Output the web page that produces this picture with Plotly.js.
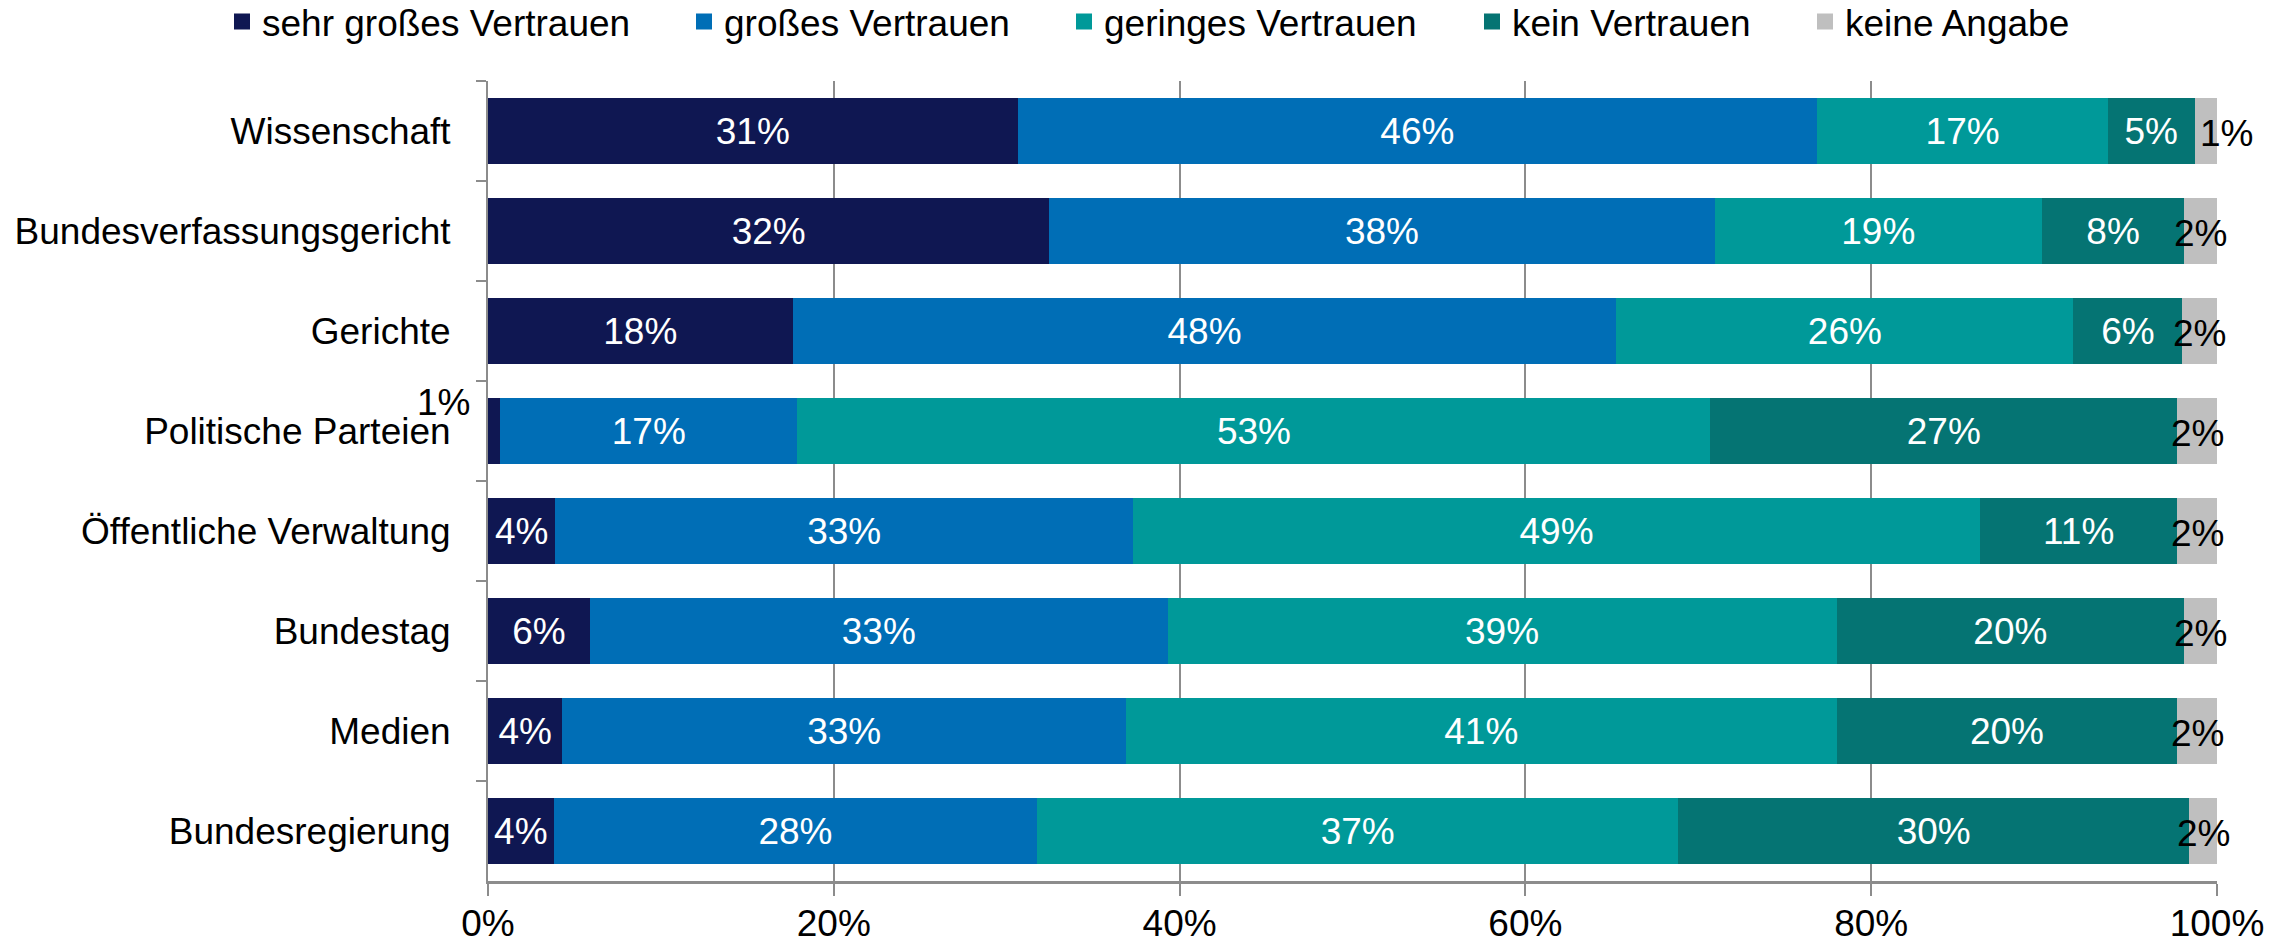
<!DOCTYPE html>
<html>
<head>
<meta charset="utf-8">
<script src="https://cdn.plot.ly/plotly-3.0.1.min.js"></script>
<style>html,body{margin:0;padding:0;background:#fff;}#chart{width:2292px;height:945px;}</style>
</head>
<body>
<div id="chart"></div>
<script>
const categories = ["Wissenschaft", "Bundesverfassungsgericht", "Gerichte", "Politische Parteien",
  "Öffentliche Verwaltung", "Bundestag", "Medien", "Bundesregierung"];
const seriesNames = ["sehr großes Vertrauen", "großes Vertrauen", "geringes Vertrauen", "kein Vertrauen", "keine Angabe"];
const sehrGross = [30.6, 32.4, 17.6, 0.7, 3.9, 5.9, 4.3, 3.8];
const gross     = [46.2, 38.4, 47.6, 17.2, 33.4, 33.4, 32.6, 28.0];
const gering    = [16.8, 18.9, 26.4, 52.8, 49.0, 38.7, 41.1, 37.1];
const kein      = [5.0, 8.2, 6.3, 27.0, 11.4, 20.1, 19.7, 29.6];
const keineAng  = [1.3, 1.9, 2.0, 2.3, 2.3, 1.9, 2.3, 1.6];
const xTicks = [0, 20, 40, 60, 80, 100];

const colors = ["#0f1752", "#006eb6", "#009999", "#057473", "#bfbfbf"];
const FONT = "'Liberation Sans', Arial, Helvetica, sans-serif";
const FS = 37;
const series = [sehrGross, gross, gering, kein, keineAng];
const movedLabel = {series: 0, category: "Politische Parteien"};
const lbl = v => Math.round(v) + "%";
// legend entry positions (container fraction of the 2292px width)
const legendX = [222, 684, 1064, 1472, 1805].map(p => p / 2292);
const legendKeys = ["legend", "legend2", "legend3", "legend4", "legend5"];

const traces = series.map((vals, i) => ({
  type: "bar",
  orientation: "h",
  name: seriesNames[i],
  showlegend: false,
  y: categories,
  x: vals,
  text: (i === series.length - 1) ? null :
        vals.map((v, j) => (i === movedLabel.series && categories[j] === movedLabel.category) ? "" : lbl(v)),
  textposition: (i === series.length - 1) ? "none" : "inside",
  insidetextanchor: "middle",
  constraintext: "none",
  textangle: 0,
  cliponaxis: false,
  textfont: {family: FONT, size: FS, color: "#ffffff"},
  marker: {color: colors[i], line: {width: 0}},
  hoverinfo: "skip"
}));
// legend-only entries (larger swatches through an outline of the same colour)
seriesNames.forEach((n, i) => {
  traces.push({
    type: "bar", orientation: "h", name: n, legend: legendKeys[i], showlegend: true,
    y: [categories[0]], x: [null],
    marker: {color: colors[i], line: {width: 4, color: colors[i]}},
    hoverinfo: "skip"
  });
});

// labels of the small grey segments, centred on the segment (normalised like barnorm)
const totals = categories.map((c, j) => series.reduce((s, arr) => s + arr[j], 0));
const annotations = categories.map((c, j) => ({
  x: (totals[j] - keineAng[j] / 2) / totals[j] * 100, y: c, xref: "x", yref: "y",
  text: lbl(keineAng[j]), showarrow: false,
  xanchor: keineAng[j] < 1.5 ? "left" : "center", xshift: keineAng[j] < 1.5 ? -8 : 0,
  yanchor: "middle", yshift: -2,
  font: {family: FONT, size: FS, color: "#000"}
}));

const mi = categories.indexOf(movedLabel.category);
annotations.push({
  x: 0, y: categories[mi], xref: "x", yref: "y",
  text: lbl(series[movedLabel.series][mi]),
  showarrow: false, xanchor: "right", yanchor: "middle",
  xshift: -16, yshift: 29,
  font: {family: FONT, size: FS, color: "#000"}
});

const layout = {
  width: 2292, height: 945,
  margin: {l: 488, r: 75, t: 81, b: 64},
  paper_bgcolor: "#ffffff", plot_bgcolor: "#ffffff",
  barmode: "stack",
  barnorm: "percent",
  bargap: 0.34,
  font: {family: FONT, size: FS, color: "#000"},
  showlegend: true,
  xaxis: {
    range: [0, 100], tickvals: xTicks, ticktext: xTicks.map(v => v + "%"),
    showgrid: true, gridcolor: "#8c8c8c", gridwidth: 2,
    zeroline: false, showline: true, linecolor: "#8c8c8c", linewidth: 3,
    ticks: "outside", ticklen: 12, tickcolor: "#8c8c8c", tickwidth: 2,
    ticklabelstandoff: -4,
    tickfont: {family: FONT, size: FS, color: "#000"},
    fixedrange: true
  },
  yaxis: {
    autorange: "reversed", type: "category",
    showgrid: false, zeroline: false, showline: true, linecolor: "#8c8c8c", linewidth: 2,
    ticks: "outside", tickson: "boundaries", ticklen: 10, tickcolor: "#8c8c8c", tickwidth: 2,
    ticklabelstandoff: 28,
    tickfont: {family: FONT, size: FS, color: "#000"},
    fixedrange: true
  },
  annotations: annotations
};
legendKeys.forEach((k, i) => {
  layout[k] = {
    orientation: "h", xref: "container", yref: "container",
    x: legendX[i], xanchor: "left", y: 1 - 22 / 945, yanchor: "middle",
    font: {family: FONT, size: FS, color: "#000"},
    itemwidth: 30, bgcolor: "rgba(0,0,0,0)", borderwidth: 0
  };
});

Plotly.newPlot("chart", traces, layout, {displayModeBar: false, staticPlot: true});
</script>
</body>
</html>
